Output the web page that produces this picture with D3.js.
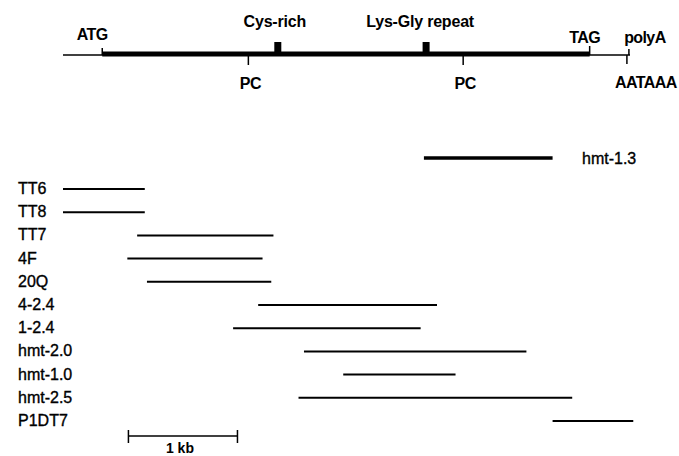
<!DOCTYPE html>
<html>
<head>
<meta charset="utf-8">
<script src="https://cdn.jsdelivr.net/npm/d3@7"></script>
<style>
  body { margin: 0; background: #fff; }
  text { font-family: "Liberation Sans", Arial, Helvetica, sans-serif; fill: #000; }
</style>
</head>
<body>
<script>
// map positions in kb, measured from left end of the map line
var mapLength = 5.2;
var atg = 0.36, tag = 4.83, polyA = 5.19;
var domains = ["Cys-rich", "Lys-Gly repeat"];
var domainPos = [1.97, 3.33];
var pcSites = [1.70, 3.67];

// cDNA clones: name, start, end (kb)
var clones = ["TT6", "TT8", "TT7", "4F", "20Q", "4-2.4", "1-2.4", "hmt-2.0", "hmt-1.0", "hmt-2.5", "P1DT7"];
var cloneStart = [0.00, 0.00, 0.68, 0.59, 0.77, 1.79, 1.56, 2.21, 2.57, 2.16, 4.49];
var cloneEnd   = [0.75, 0.75, 1.93, 1.83, 1.91, 3.43, 3.28, 4.25, 3.60, 4.67, 5.23];

var genomic = {name: "hmt-1.3", start: 3.31, end: 4.49};
var scaleBar = [0.60, 1.60]; // 1 kb

var width = 679, height = 456;
var svg = d3.select("body").append("svg")
    .attr("width", width)
    .attr("height", height);

var x = d3.scaleLinear().domain([0, mapLength]).range([63, 630]);
var y = d3.scalePoint().domain(clones).range([189, 421]);
var mapY = 54;

// --- gene map ---
var map = svg.append("g");
map.append("line")
    .attr("x1", x(0)).attr("x2", x(mapLength))
    .attr("y1", mapY + 1).attr("y2", mapY + 1)
    .attr("stroke", "#000").attr("stroke-width", 1.5);
map.append("line")
    .attr("x1", x(atg)).attr("x2", x(tag))
    .attr("y1", mapY).attr("y2", mapY)
    .attr("stroke", "#000").attr("stroke-width", 5);

// ticks up
[[atg, 7], [tag, 9], [polyA, 6]].forEach(function(t) {
  map.append("line")
    .attr("x1", x(t[0])).attr("x2", x(t[0]))
    .attr("y1", mapY + 1).attr("y2", mapY + 1 - t[1])
    .attr("stroke", "#000").attr("stroke-width", 1.5);
});
// AATAAA tick down
map.append("line")
    .attr("x1", x(polyA) - 2).attr("x2", x(polyA) - 2)
    .attr("y1", mapY + 1).attr("y2", mapY + 10)
    .attr("stroke", "#000").attr("stroke-width", 1.5);

// domain blocks
map.selectAll("rect.dom")
  .data(domainPos)
  .enter().append("rect")
    .attr("class", "dom")
    .attr("x", function(d) { return x(d) - 3.5; })
    .attr("y", mapY - 12)
    .attr("width", 7).attr("height", 12)
    .attr("fill", "#000");

map.selectAll("text.dom")
  .data(domains)
  .enter().append("text")
    .attr("class", "dom")
    .attr("x", function(d, i) { return x(domainPos[i]) - (i == 0 ? 3 : 6); })
    .attr("y", 27)
    .attr("text-anchor", "middle")
    .attr("font-size", 16).attr("font-weight", "bold")
    .attr("letter-spacing", -0.2)
    .text(function(d) { return d; });

// PC sites
map.selectAll("line.pc")
  .data(pcSites)
  .enter().append("line")
    .attr("class", "pc")
    .attr("x1", function(d) { return x(d); }).attr("x2", function(d) { return x(d); })
    .attr("y1", mapY).attr("y2", mapY + 11)
    .attr("stroke", "#000").attr("stroke-width", 1.5);
map.selectAll("text.pc")
  .data(pcSites)
  .enter().append("text")
    .attr("class", "pc")
    .attr("x", function(d) { return x(d) + 2; })
    .attr("y", 89)
    .attr("text-anchor", "middle")
    .attr("font-size", 16).attr("font-weight", "bold")
    .attr("letter-spacing", -0.5)
    .text("PC");

var lbl = [["ATG", x(atg) - 10, 40], ["TAG", x(tag) - 5, 43], ["polyA", x(polyA) + 16, 43], ["AATAAA", x(polyA) + 17, 88]];
lbl.forEach(function(l) {
  map.append("text")
    .attr("x", l[1]).attr("y", l[2])
    .attr("text-anchor", "middle")
    .attr("font-size", 16).attr("font-weight", "bold")
    .attr("letter-spacing", -0.6)
    .text(l[0]);
});

// --- clones ---
var g = svg.append("g");
g.append("line")
    .attr("x1", x(genomic.start)).attr("x2", x(genomic.end))
    .attr("y1", 158).attr("y2", 158)
    .attr("stroke", "#000").attr("stroke-width", 3.5);
g.append("text")
    .attr("x", 582).attr("y", 164)
    .attr("font-size", 16).attr("stroke", "#000").attr("stroke-width", 0.35)
    .text(genomic.name);

g.selectAll("line.clone")
  .data(clones)
  .enter().append("line")
    .attr("class", "clone")
    .attr("x1", function(d, i) { return x(cloneStart[i]); })
    .attr("x2", function(d, i) { return x(cloneEnd[i]); })
    .attr("y1", function(d) { return y(d); })
    .attr("y2", function(d) { return y(d); })
    .attr("stroke", "#000").attr("stroke-width", 2);

g.selectAll("text.clone")
  .data(clones)
  .enter().append("text")
    .attr("class", "clone")
    .attr("x", 18)
    .attr("y", function(d) { return y(d) + 5; })
    .attr("font-size", 16).attr("stroke", "#000").attr("stroke-width", 0.35)
    .text(function(d) { return d; });

// --- scale bar ---
var sb = svg.append("g");
sb.append("line")
    .attr("x1", x(scaleBar[0])).attr("x2", x(scaleBar[1]))
    .attr("y1", 436).attr("y2", 436)
    .attr("stroke", "#000").attr("stroke-width", 1.5);
sb.selectAll("line.end")
  .data(scaleBar)
  .enter().append("line")
    .attr("class", "end")
    .attr("x1", function(d) { return x(d); }).attr("x2", function(d) { return x(d); })
    .attr("y1", 430).attr("y2", 443)
    .attr("stroke", "#000").attr("stroke-width", 1.5);
sb.append("text")
    .attr("x", x((scaleBar[0] + scaleBar[1]) / 2) - 3).attr("y", 453)
    .attr("text-anchor", "middle")
    .attr("font-size", 14).attr("font-weight", "bold")
    .text("1 kb");
</script>
</body>
</html>
